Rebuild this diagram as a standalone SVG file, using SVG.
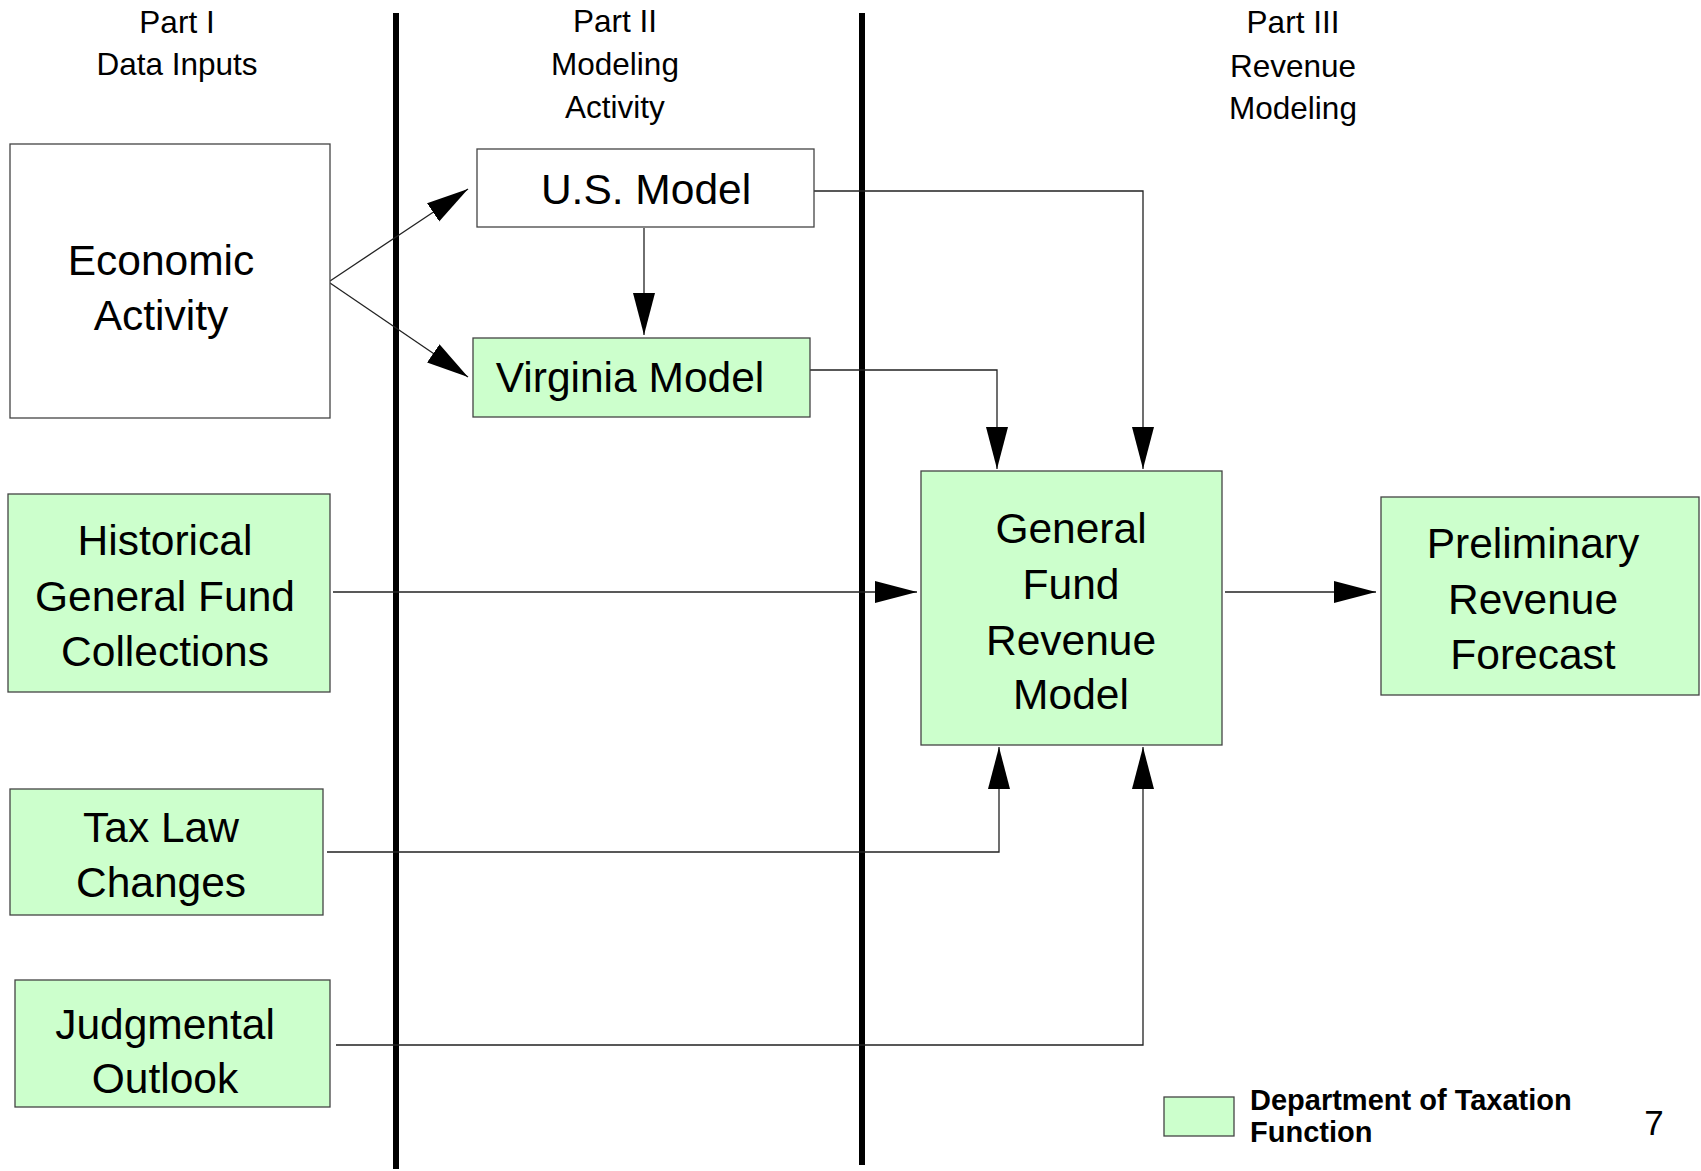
<svg xmlns="http://www.w3.org/2000/svg" width="1701" height="1171" viewBox="0 0 1701 1171">
<style>
text{font-family:"Liberation Sans",Arial,sans-serif;fill:#000}
.hdr{font-size:31.5px;text-anchor:middle}
.lbl{font-size:42.5px;text-anchor:middle}
.box{stroke:#444;stroke-width:1.3}
.w{fill:#fff}
.g{fill:#CCFFCC}
.sep{stroke:#000;stroke-width:6;fill:none}
.con{stroke:#222;stroke-width:1.3;fill:none}
.leg{font-size:29px;font-weight:bold}
</style>
<defs>
<marker id="arr" markerUnits="userSpaceOnUse" markerWidth="44" markerHeight="24" refX="42" refY="11" orient="auto">
<path d="M0,0 L42,11 L0,22 z" fill="#000"/>
</marker>
</defs>
<rect width="1701" height="1171" fill="#fff"/>
<g id="headers">
<text class="hdr" x="177" y="33">Part I</text>
<text class="hdr" x="177" y="75">Data Inputs</text>
<text class="hdr" x="615" y="32">Part II</text>
<text class="hdr" x="615" y="75">Modeling</text>
<text class="hdr" x="615" y="118">Activity</text>
<text class="hdr" x="1293" y="33">Part III</text>
<text class="hdr" x="1293" y="77">Revenue</text>
<text class="hdr" x="1293" y="119">Modeling</text>
</g>
<g id="separators">
<line class="sep" x1="396" y1="13" x2="396" y2="1169"/>
<line class="sep" x1="862" y1="13" x2="862" y2="1165"/>
</g>
<g id="connectors">
<line class="con" x1="330" y1="281" x2="468" y2="189" marker-end="url(#arr)"/>
<line class="con" x1="330" y1="283" x2="468" y2="377" marker-end="url(#arr)"/>
<line class="con" x1="644" y1="228" x2="644" y2="335" marker-end="url(#arr)"/>
<polyline class="con" points="814,191 1143,191 1143,469" marker-end="url(#arr)"/>
<polyline class="con" points="810,370 997,370 997,469" marker-end="url(#arr)"/>
<line class="con" x1="333" y1="592" x2="917" y2="592" marker-end="url(#arr)"/>
<line class="con" x1="1225" y1="592" x2="1376" y2="592" marker-end="url(#arr)"/>
<polyline class="con" points="327,852 999,852 999,747" marker-end="url(#arr)"/>
<polyline class="con" points="336,1045 1143,1045 1143,747" marker-end="url(#arr)"/>
</g>
<g id="economic-activity">
<rect class="box w" x="10" y="144" width="320" height="274"/>
<text class="lbl" x="161" y="275">Economic</text>
<text class="lbl" x="161" y="330">Activity</text>
</g>
<g id="us-model">
<rect class="box w" x="477" y="149" width="337" height="78"/>
<text class="lbl" x="646" y="204">U.S. Model</text>
</g>
<g id="virginia-model">
<rect class="box g" x="473" y="338" width="337" height="79"/>
<text class="lbl" x="630" y="392">Virginia Model</text>
</g>
<g id="historical">
<rect class="box g" x="8" y="494" width="322" height="198"/>
<text class="lbl" x="165" y="555">Historical</text>
<text class="lbl" x="165" y="611">General Fund</text>
<text class="lbl" x="165" y="666">Collections</text>
</g>
<g id="tax-law">
<rect class="box g" x="10" y="789" width="313" height="126"/>
<text class="lbl" x="161" y="842">Tax Law</text>
<text class="lbl" x="161" y="897">Changes</text>
</g>
<g id="judgmental">
<rect class="box g" x="15" y="980" width="315" height="127"/>
<text class="lbl" x="165" y="1039">Judgmental</text>
<text class="lbl" x="165" y="1093">Outlook</text>
</g>
<g id="gf-revenue-model">
<rect class="box g" x="921" y="471" width="301" height="274"/>
<text class="lbl" x="1071" y="543">General</text>
<text class="lbl" x="1071" y="599">Fund</text>
<text class="lbl" x="1071" y="655">Revenue</text>
<text class="lbl" x="1071" y="709">Model</text>
</g>
<g id="preliminary-forecast">
<rect class="box g" x="1381" y="497" width="318" height="198"/>
<text class="lbl" x="1533" y="558">Preliminary</text>
<text class="lbl" x="1533" y="614">Revenue</text>
<text class="lbl" x="1533" y="669">Forecast</text>
</g>
<g id="legend">
<rect class="box g" x="1164" y="1097" width="70" height="39"/>
<text class="leg" x="1250" y="1110">Department of Taxation</text>
<text class="leg" x="1250" y="1142">Function</text>
</g>
<g id="page-number">
<text x="1654" y="1135" font-size="35" text-anchor="middle">7</text>
</g>
</svg>
